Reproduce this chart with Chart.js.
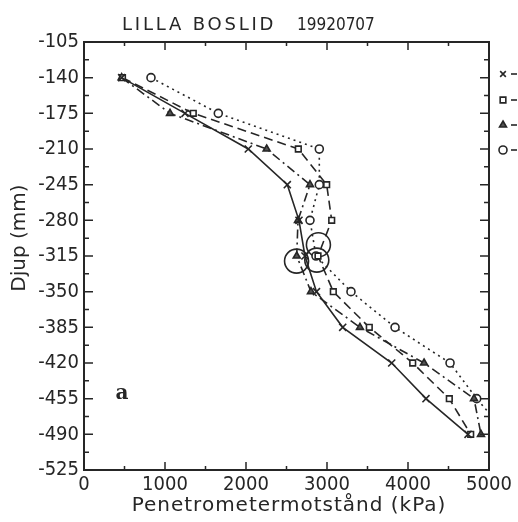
<!DOCTYPE html>
<html>
<head>
<meta charset="utf-8">
<script src="https://cdn.jsdelivr.net/npm/chart.js@4"></script>
<style>
  html, body { margin: 0; padding: 0; background: #fff; }
  #wrap { width: 518px; height: 522px; }
</style>
</head>
<body>
<div id="wrap"><canvas id="myChart" width="518" height="522"></canvas></div>
<script>
// Djup (mm) for every measured level
const depths = [-140, -175, -210, -245, -280, -315, -350, -385, -420, -455, -490];
// Penetrometermotstånd (kPa) per series
const seriesCross    = [465, 1247, 2028, 2510, 2654, 2728, 2870, 3194, 3799, 4222, 4741];
const seriesSquare   = [475, 1349, 2646, 2996, 3058, 2889, 3078, 3522, 4058, 4510, 4774];
const seriesTriangle = [465, 1062, 2255, 2790, 2642, 2626, 2802, 3407, 4198, 4815, 4901];
const seriesCircle   = [827, 1658, 2905, 2905, 2790, 2864, 3296, 3840, 4519, 4848, 5230];
// hand drawn rings around the -315 level
const ringX = [2624, 2874, 2894];
const ringY = [-320, -319, -304];

const xTicks = [0, 1000, 2000, 3000, 4000, 5000];
const yMin = -525, yMax = -105, yStep = 35;

const INK = '#262626';
const FONT = '"DejaVu Sans Condensed", "Liberation Sans Narrow", "DejaVu Sans", sans-serif';

function pts(vals) {
    return vals.map((v, i) => ({ x: v, y: depths[i] }));
}

// ramar, skalstreck och texter
const deco = {
    id: 'deco',
    afterDraw(chart) {
        const { ctx, chartArea: a, scales: { x, y } } = chart;
        ctx.save();
        ctx.strokeStyle = INK;
        ctx.fillStyle = INK;
        ctx.lineWidth = 2;
        ctx.strokeRect(a.left, a.top, a.right - a.left, a.bottom - a.top);

        ctx.lineWidth = 1.5;
        ctx.beginPath();
        for (let v = yMin; v <= yMax; v += yStep / 2) {
            const py = y.getPixelForValue(v);
            const major = Math.abs((v - yMin) % yStep) < 0.01;
            const L = major ? 9 : 5;
            ctx.moveTo(a.left, py); ctx.lineTo(a.left + L, py);
            ctx.moveTo(a.right, py); ctx.lineTo(a.right - L, py);
        }
        for (let v = 0; v <= 5000; v += 500) {
            const px = x.getPixelForValue(v);
            const L = v % 1000 === 0 ? 8 : 4;
            ctx.moveTo(px, a.bottom); ctx.lineTo(px, a.bottom - L);
            ctx.moveTo(px, a.top); ctx.lineTo(px, a.top + L);
        }
        ctx.stroke();

        // rubrik
        ctx.textBaseline = 'alphabetic';
        ctx.textAlign = 'left';
        ctx.font = '18px "DejaVu Sans"';
        ctx.letterSpacing = '2.8px';
        ctx.fillText('LILLA BOSLID', 122, 30);
        ctx.font = '17px ' + FONT;
        ctx.letterSpacing = '0px';
        ctx.fillText('19920707', 297, 30);

        // axeltitlar
        ctx.textAlign = 'center';
        ctx.font = '20px "DejaVu Sans"';
        ctx.letterSpacing = '1px';
        ctx.fillText('Penetrometermotstånd (kPa)', 289, 511);
        ctx.letterSpacing = '0px';
        ctx.save();
        ctx.translate(25, 238);
        ctx.rotate(-Math.PI / 2);
        ctx.fillText('Djup (mm)', 0, 0);
        ctx.restore();

        // a
        ctx.font = 'bold 20px "DejaVu Serif"';
        ctx.textBaseline = 'middle';
        ctx.fillText('a', x.getPixelForValue(470), y.getPixelForValue(-450));

        // teckenförklaring
        const leg = [
            { style: 'crossRot', fill: '#fff' },
            { style: 'rect', fill: '#fff' },
            { style: 'triangle', fill: '#555' },
            { style: 'circle', fill: '#fff' }
        ];
        const ly = [74, 100, 125, 150];
        ctx.lineWidth = 1.6;
        leg.forEach((l, i) => {
            ctx.fillStyle = l.fill;
            ctx.strokeStyle = INK;
            Chart.helpers.drawPoint(ctx, {
                pointStyle: l.style, radius: 4, rotation: 0, borderWidth: 1.6
            }, 503, ly[i]);
            ctx.beginPath();
            ctx.moveTo(511, ly[i]); ctx.lineTo(517, ly[i]);
            ctx.stroke();
        });
        ctx.restore();
    }
};

const common = {
    showLine: true,
    borderColor: INK,
    pointBorderColor: INK,
    borderWidth: 1.6,
    pointBorderWidth: 1.6,
    pointRadius: 4,
    pointBackgroundColor: '#fff',
    tension: 0
};

const ctx = document.getElementById('myChart').getContext('2d');
const myChart = new Chart(ctx, {
    type: 'scatter',
    data: {
        datasets: [
            Object.assign({}, common, { label: 'x', data: pts(seriesCross), pointStyle: 'crossRot', pointRadius: 5 }),
            Object.assign({}, common, { label: 'square', data: pts(seriesSquare), pointStyle: 'rect', borderDash: [9, 5] }),
            Object.assign({}, common, { label: 'triangle', data: pts(seriesTriangle), pointStyle: 'triangle', borderDash: [9, 4, 2, 4], pointBackgroundColor: '#555' }),
            Object.assign({}, common, { label: 'circle', data: pts(seriesCircle), pointStyle: 'circle', borderDash: [2, 4] }),
            {
                label: 'ring',
                data: ringX.map((v, i) => ({ x: v, y: ringY[i] })),
                showLine: false,
                pointStyle: 'circle',
                pointRadius: 12,
                pointBorderWidth: 1.6,
                pointBorderColor: INK,
                pointBackgroundColor: 'rgba(0,0,0,0)'
            }
        ]
    },
    options: {
        responsive: false,
        animation: false,
        layout: { padding: { top: 42, right: 29, left: 0, bottom: 0 } },
        plugins: {
            legend: { display: false },
            title: { display: false },
            tooltip: { enabled: false }
        },
        scales: {
            x: {
                type: 'linear',
                min: 0,
                max: 5000,
                afterFit: s => { s.height = 52; },
                afterBuildTicks: s => { s.ticks = xTicks.map(v => ({ value: v })); },
                grid: { display: false, drawTicks: false },
                border: { display: false },
                ticks: { color: INK, padding: 3, font: { family: FONT, size: 20 }, maxRotation: 0, callback: v => String(v) }
            },
            y: {
                type: 'linear',
                min: yMin,
                max: yMax,
                afterFit: s => { s.width = 84; },
                grid: { display: false, drawTicks: false },
                border: { display: false },
                ticks: { stepSize: yStep, color: INK, padding: 5, font: { family: FONT, size: 20 }, callback: v => String(v) }
            }
        }
    },
    plugins: [deco]
});
</script>
</body>
</html>
